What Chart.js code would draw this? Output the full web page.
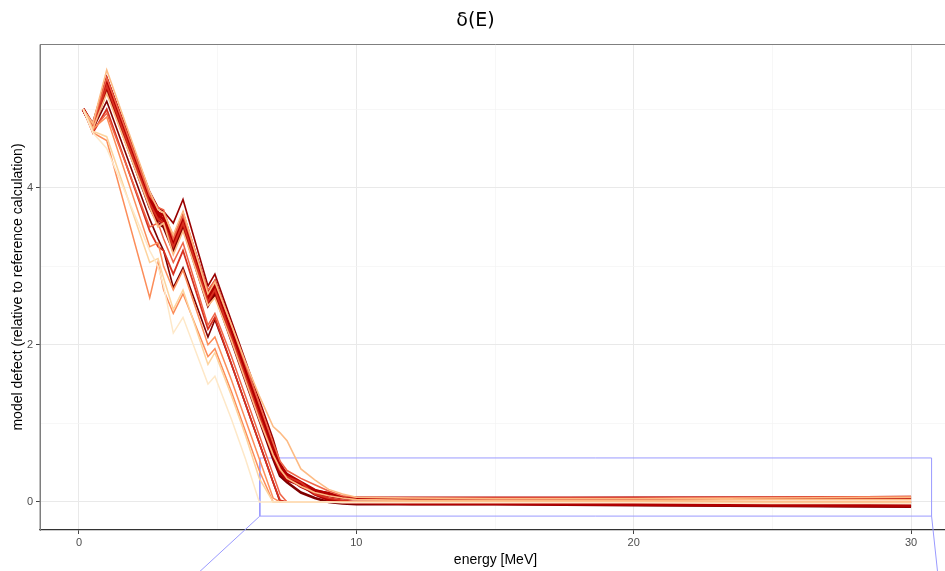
<!DOCTYPE html>
<html>
<head>
<meta charset="utf-8">
<script src="https://cdn.jsdelivr.net/npm/chart.js@4"></script>
<style>
html, body { margin: 0; padding: 0; background: #fff; overflow: hidden; }
</style>
</head>
<body>
<canvas id="chart" width="955" height="571"></canvas>
<script>
// energy grid [MeV]
var energy = [0.15, 0.5, 1.0, 2.55, 2.85, 3.05, 3.4, 3.75, 4.65, 4.9, 5.5, 6.0, 6.5, 7.0, 7.25, 7.5, 8.0, 8.5, 9.0, 9.5, 10, 12, 15, 20, 25, 30];

// model defect curves, light -> dark
var s01 = [5.0, 4.70, 4.50, 3.20, 3.00, 2.75, 2.15, 2.35, 1.50, 1.60, 1.05, 0.55, 0.00, 0.00, 0.00, 0.00, 0.00, 0.00, 0.00, -0.01, -0.01, -0.01, -0.01, -0.01, -0.02, -0.02];
var s02 = [5.0, 4.72, 4.65, 3.05, 3.10, 2.85, 2.45, 2.70, 1.75, 1.90, 1.35, 0.85, 0.30, 0.00, 0.00, 0.00, 0.00, 0.00, 0.00, 0.00, 0.00, 0.00, 0.00, 0.00, 0.00, 0.00];
var s03 = [5.0, 4.82, 5.50, 3.95, 3.72, 3.68, 3.40, 3.70, 2.65, 2.80, 2.25, 1.78, 1.35, 0.96, 0.88, 0.78, 0.42, 0.28, 0.16, 0.10, 0.06, 0.05, 0.04, 0.04, 0.05, 0.06];
var s04 = [5.0, 4.75, 5.20, 3.75, 3.50, 3.55, 3.15, 3.45, 2.50, 2.60, 2.05, 1.55, 1.05, 0.60, 0.42, 0.30, 0.20, 0.12, 0.08, 0.05, 0.03, 0.02, 0.02, 0.02, 0.03, 0.03];
var s05 = [5.0, 4.70, 4.60, 2.60, 3.05, 2.70, 2.40, 2.65, 1.85, 1.95, 1.40, 0.90, 0.40, 0.00, 0.00, 0.00, 0.00, 0.00, 0.00, 0.00, 0.00, 0.00, 0.00, 0.00, 0.00, 0.00];
var s06 = [5.0, 4.75, 4.90, 3.25, 3.30, 3.00, 2.70, 2.95, 2.00, 2.10, 1.55, 1.05, 0.55, 0.05, 0.00, 0.00, 0.00, 0.00, 0.00, 0.00, 0.00, 0.00, 0.00, 0.00, 0.00, 0.00];
var s07 = [5.0, 4.73, 4.95, 3.50, 3.55, 3.35, 3.05, 3.30, 2.25, 2.40, 1.85, 1.35, 0.85, 0.35, 0.10, 0.00, 0.00, 0.00, 0.00, 0.00, 0.00, 0.00, 0.00, 0.00, 0.00, 0.00];
var s08 = [5.0, 4.80, 5.40, 3.90, 3.75, 3.72, 3.35, 3.65, 2.70, 2.82, 2.25, 1.75, 1.25, 0.75, 0.52, 0.40, 0.30, 0.22, 0.14, 0.08, 0.06, 0.05, 0.05, 0.05, 0.06, 0.07];
var s09 = [5.0, 4.78, 5.30, 3.80, 3.60, 3.55, 3.25, 3.55, 2.55, 2.70, 2.10, 1.60, 1.10, 0.60, 0.40, 0.32, 0.25, 0.10, 0.05, 0.02, 0.00, 0.00, 0.00, 0.00, 0.00, 0.00];
var s10 = [5.0, 4.70, 5.00, 3.45, 3.25, 3.20, 2.90, 3.20, 2.20, 2.35, 1.75, 1.25, 0.75, 0.25, 0.02, 0.00, 0.00, 0.00, 0.00, 0.00, 0.00, 0.00, 0.00, 0.00, 0.00, 0.00];
var s11 = [5.0, 4.78, 5.35, 3.85, 3.65, 3.60, 3.30, 3.60, 2.60, 2.75, 2.15, 1.65, 1.15, 0.65, 0.42, 0.32, 0.20, 0.12, 0.08, 0.05, 0.04, 0.04, 0.04, 0.045, 0.05, 0.05];
var s12 = [5.0, 4.76, 5.30, 3.80, 3.60, 3.55, 3.27, 3.55, 2.55, 2.70, 2.10, 1.60, 1.10, 0.60, 0.38, 0.28, 0.22, 0.10, 0.03, 0.00, -0.01, -0.02, -0.02, -0.03, -0.04, -0.05];
var s13 = [5.0, 4.80, 5.38, 3.90, 3.68, 3.65, 3.35, 3.65, 2.65, 2.80, 2.20, 1.70, 1.20, 0.70, 0.45, 0.35, 0.25, 0.15, 0.10, 0.06, 0.05, 0.05, 0.05, 0.05, 0.05, 0.06];
var s14 = [5.0, 4.80, 5.40, 3.95, 3.75, 3.70, 3.55, 3.85, 2.75, 2.90, 2.30, 1.80, 1.30, 0.80, 0.50, 0.35, 0.25, 0.15, 0.12, 0.06, 0.04, 0.03, 0.03, 0.03, 0.04, 0.04];
var s15 = [5.0, 4.75, 5.10, 3.60, 3.35, 3.20, 2.73, 2.98, 2.10, 2.32, 1.75, 1.25, 0.75, 0.25, 0.00, 0.00, 0.00, 0.00, 0.00, 0.00, -0.01, -0.02, -0.02, -0.03, -0.04, -0.05];
var s16 = [5.0, 4.74, 5.25, 3.75, 3.55, 3.50, 3.20, 3.50, 2.50, 2.65, 2.05, 1.55, 1.05, 0.55, 0.33, 0.25, 0.12, 0.05, 0.00, -0.02, -0.03, -0.03, -0.03, -0.04, -0.05, -0.06];

var allSeries = [s01, s02, s03, s04, s05, s06, s07, s08, s09, s10, s11, s12, s13, s14, s15, s16];
var lineColors = ['#fee8c8', '#fdd49e', '#fdbb84', '#fdbb84', '#fc8d59', '#fc8d59', '#ef6548', '#ef6548',
                  '#d7301f', '#d7301f', '#b30000', '#b30000', '#b30000', '#990000', '#7f0000', '#7f0000'];
var lineWidths = [1.5, 1.5, 1.6, 1.6, 1.5, 1.5, 1.5, 1.6, 1.8, 1.8, 3.2, 3.2, 3.2, 1.6, 1.6, 2.6];

// axis ticks
var xTicks = [0, 5, 10, 15, 20, 25, 30];
var yTicks = [0, 1, 2, 3, 4, 5];

// zoom box and its connectors
var boxX = [6.52, 30.74, 30.74, 6.52, 6.52];
var boxY = [-0.18, -0.18, 0.56, 0.56, -0.18];
var linkLeftX = [6.52, 3.39];
var linkLeftY = [-0.18, -1.2];
var linkRightX = [30.74, 31.05];
var linkRightY = [-0.18, -1.2];

function pts(xs, ys) {
  return xs.map(function (x, i) { return { x: x, y: ys[i] }; });
}

var datasets = [];
for (var k = 0; k < allSeries.length; k++) {
  datasets.push({
    data: pts(energy, allSeries[k]),
    borderColor: lineColors[k],
    borderWidth: lineWidths[k],
    pointRadius: 0,
    tension: 0,
    fill: false
  });
}
var boxStyle = { borderColor: '#9a9aff', borderWidth: 1, pointRadius: 0, tension: 0, fill: false, clip: false };
datasets.push(Object.assign({ data: pts(boxX, boxY) }, boxStyle));
datasets.push(Object.assign({ data: pts(linkLeftX, linkLeftY) }, boxStyle));
datasets.push(Object.assign({ data: pts(linkRightX, linkRightY) }, boxStyle));

var panelBorder = {
  id: 'panelBorder',
  afterDraw: function (chart) {
    var a = chart.chartArea, c = chart.ctx;
    c.save();
    c.strokeStyle = '#7f7f7f';
    c.lineWidth = 1;
    c.beginPath();
    c.moveTo(a.left, a.bottom);
    c.lineTo(a.left, a.top + 0.5);
    c.lineTo(a.right - 0.5, a.top + 0.5);
    c.lineTo(a.right - 0.5, a.bottom);
    c.stroke();
    c.restore();
  }
};

var tickFont = { family: 'Liberation Sans', size: 11 };

new Chart(document.getElementById('chart').getContext('2d'), {
  type: 'line',
  data: { datasets: datasets },
  plugins: [panelBorder],
  options: {
    responsive: false,
    animation: false,
    layout: { padding: { left: 0, right: 4, top: 0, bottom: 0 } },
    plugins: {
      legend: { display: false },
      tooltip: { enabled: false },
      title: {
        display: true,
        text: 'δ(E)',
        color: '#000',
        font: { family: 'DejaVu Sans', size: 19, weight: 'normal' },
        padding: { top: 10, bottom: 11.2 }
      }
    },
    scales: {
      x: {
        type: 'linear',
        min: -1.406,
        max: 31.44,
        afterBuildTicks: function (s) { s.ticks = xTicks.map(function (v) { return { value: v }; }); },
        afterFit: function (s) { s.height = 41; },
        ticks: {
          color: '#4d4d4d', font: tickFont, padding: 2, maxRotation: 0, autoSkip: false,
          callback: function (v) { return v % 10 === 0 ? String(v) : ''; }
        },
        grid: {
          color: function (c) { return c.tick && c.tick.value % 10 === 0 ? '#e9e9e9' : '#f3f3f3'; },
          lineWidth: function (c) { return c.tick && c.tick.value % 10 === 0 ? 1 : 0.7; },
          tickColor: function (c) { return c.tick && c.tick.value % 10 === 0 ? '#444' : 'rgba(0,0,0,0)'; },
          tickLength: 4
        },
        border: { display: true, color: '#333', width: 1.3 },
        title: {
          display: true, text: 'energy [MeV]', color: '#000',
          font: { family: 'Liberation Sans', size: 14 }, padding: { top: 0, bottom: 2 }
        }
      },
      y: {
        type: 'linear',
        min: -0.357,
        max: 5.83,
        afterBuildTicks: function (s) { s.ticks = yTicks.map(function (v) { return { value: v }; }); },
        afterFit: function (s) { s.width = 40; },
        ticks: {
          color: '#4d4d4d', font: tickFont, padding: 3, autoSkip: false,
          callback: function (v) { return v % 2 === 0 ? String(v) : ''; }
        },
        grid: {
          color: function (c) { return c.tick && c.tick.value % 2 === 0 ? '#e9e9e9' : '#f3f3f3'; },
          lineWidth: function (c) { return c.tick && c.tick.value % 2 === 0 ? 1 : 0.7; },
          tickColor: function (c) { return c.tick && c.tick.value % 2 === 0 ? '#444' : 'rgba(0,0,0,0)'; },
          tickLength: 4
        },
        border: { display: true, color: '#7f7f7f', width: 1 },
        title: {
          display: true, text: 'model defect (relative to reference calculation)', color: '#000',
          font: { family: 'Liberation Sans', size: 14 }, padding: { top: 10, bottom: 0 }
        }
      }
    }
  }
});
</script>
</body>
</html>
